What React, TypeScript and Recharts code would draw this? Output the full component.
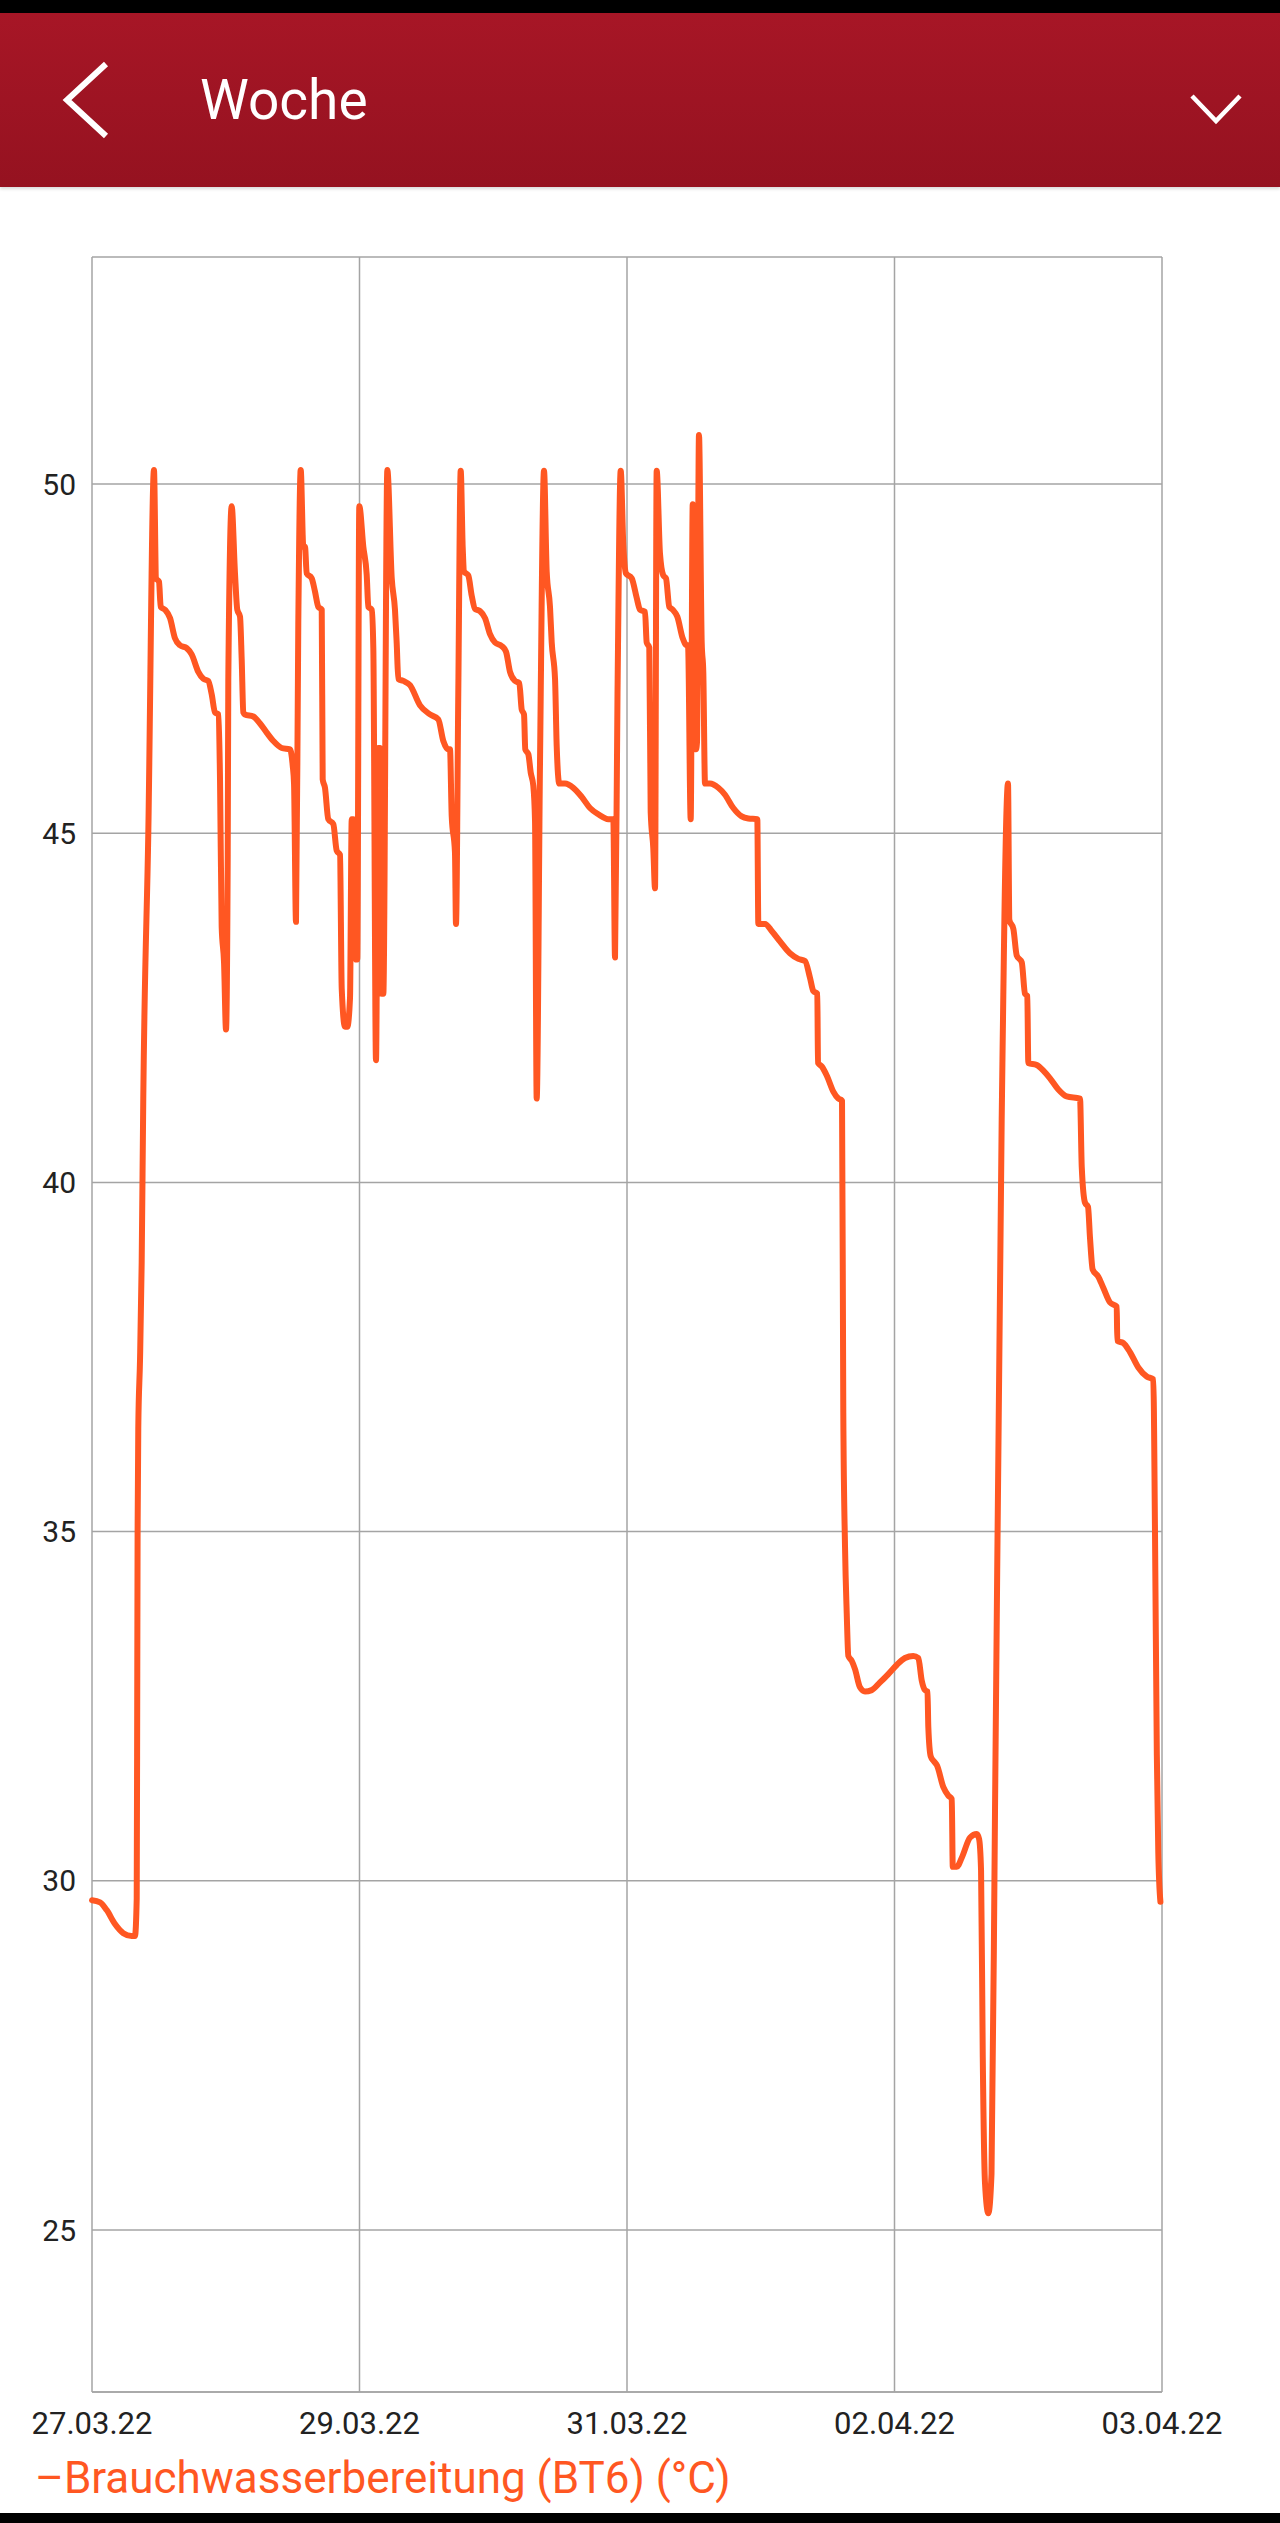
import React from 'react';
import { LineChart, Line, XAxis, YAxis, CartesianGrid } from 'recharts';

// hours since start of the week
const hours: number[] = [
  0, 1.26, 2.31, 3.61, 4.91, 6.23, 6.75, 7.02, 7.11, 7.16, 7.27, 7.54, 7.8, 8.05, 8.84, 9.73,
  10.05, 10.52, 10.79, 11.46, 12.25, 13.03, 13.82, 14.87, 15.65, 16.69, 17.48, 18.26, 18.79, 19.31, 19.83, 20.1, 20.36, 20.73, 21.04, 21.31,
  21.4, 21.93, 22.45, 22.81, 23.24, 23.5, 23.76, 24.02, 25.33, 26.38, 27.43, 28.47, 29.79, 31.09, 31.51, 31.72, 32.03, 32.39, 32.77, 33.18,
  33.44, 33.71, 34.5, 35.01, 35.53, 36.07, 36.22, 36.58, 37.1, 37.89, 38.42, 38.94, 39.21, 39.72, 40.09, 40.51, 40.78, 41.03, 41.45, 41.65,
  41.97, 42.6, 43.13, 43.39, 43.92, 44.17, 44.59, 44.95, 45.22, 45.49, 45.74, 46.37, 47.06, 47.57, 47.84, 48.09, 48.88,
  49.93, 51.5, 53.07, 54.37, 55.16, 55.94, 56.21, 56.48, 56.99, 57.15, 57.51, 57.89, 58.2, 58.41, 59.08, 59.62, 60.14, 60.92, 61.71, 62.49,
  63.28, 64.33, 65.0, 65.63, 66.42, 67.09, 67.47, 67.83, 68.03, 68.51, 68.88, 69.29, 69.56, 69.82, 70.34, 70.97, 71.39, 71.91, 72.18, 72.7,
  72.96, 73.37, 74.27, 75.57, 76.89, 78.19, 79.49, 81.06, 81.85, 82.12, 82.51, 83.01, 83.42, 83.84, 84.74, 85.52, 86.04, 86.83, 87.09, 87.5,
  87.72, 88.13, 88.4, 88.66, 89.18, 89.7, 90.12, 90.64, 91.18, 91.9, 92.75, 93.37, 93.58, 94.0, 94.32, 94.83, 94.99, 95.3, 95.73, 95.98,
  96.25, 97.03, 98.34, 99.39, 100.69, 102.01, 103.05, 104.46, 104.62, 105.67, 106.72, 108.02, 109.59, 110.9, 111.95, 112.73, 113.25, 113.88, 113.99, 114.57,
  115.36, 116.39, 117.18, 117.76,
  117.96, 118.23, 118.5, 118.75, 119.28, 119.8, 120.58, 121.37, 122.42, 123.72, 125.03, 126.35, 127.65, 128.95, 129.74, 130.27, 130.79, 131.18, 131.31, 131.69,
  132.1, 132.68, 133.67, 134.45, 134.99, 135.15, 135.78, 136.56, 137.87, 138.92, 139.28, 139.59, 139.86, 140.21, 140.73, 141.23, 141.78, 142.83, 143.82, 144.03,
  144.66, 145.19, 145.98, 146.49, 146.85, 147.01, 148.33, 149.37, 150.42, 151.72, 153.04, 155.13, 155.4, 155.91, 156.38, 156.7, 157.12, 158.0, 158.78, 159.84,
  160.89, 160.98, 161.92, 162.97, 164.28, 165.6, 166.63, 166.9, 167.19, 167.42, 167.75,
];

// Brauchwasserbereitung (BT6) in °C
const temps: number[] = [
  29.72, 29.69, 29.58, 29.38, 29.25, 29.21, 29.21, 29.74, 33.0, 35.0, 36.5, 37.46, 38.85, 41.2, 45.0, 50.2,
  48.65, 48.6, 48.24, 48.2, 48.08, 47.79, 47.69, 47.65, 47.56, 47.31, 47.21, 47.18, 46.99, 46.73, 46.7, 45.77, 43.66, 43.15, 42.19, 44.69,
  47.19, 49.68, 48.72, 48.2, 48.1, 47.5, 46.73, 46.7, 46.67, 46.57, 46.44, 46.32, 46.22, 46.2, 45.97, 45.71, 43.73, 48.0, 50.2, 49.1,
  49.1, 48.72, 48.65, 48.46, 48.24, 48.2, 45.77, 45.65, 45.2, 45.13, 44.75, 44.69, 42.77, 42.23, 42.23, 42.64, 45.2, 45.2, 43.19, 43.19,
  49.68, 49.1, 48.7, 48.24, 48.2, 47.65, 41.75, 46.22, 46.22, 42.7, 42.7, 50.2, 48.65, 48.2, 47.72, 47.21, 47.18,
  47.12, 46.83, 46.7, 46.63, 46.32, 46.2, 46.2, 45.24, 44.72, 43.7, 47.0, 50.19, 49.1, 48.75, 48.69, 48.4, 48.21, 48.18, 48.08, 47.85,
  47.73, 47.68, 47.6, 47.31, 47.18, 47.15, 46.77, 46.7, 46.2, 46.13, 45.87, 45.68, 45.17, 41.2, 46.0, 50.19, 48.75, 48.24, 47.73, 47.21,
  46.25, 45.71, 45.71, 45.65, 45.52, 45.36, 45.27, 45.2, 45.2, 43.22, 47.0, 50.19, 49.13, 48.72, 48.65, 48.37, 48.2, 48.17, 47.73, 47.66,
  45.3, 44.78, 44.21, 50.19, 49.0, 48.69, 48.65, 48.24, 48.2, 48.1, 47.79, 47.69, 47.69, 45.2, 49.71, 46.2, 46.3, 50.7, 47.73, 47.3,
  45.71, 45.71, 45.65, 45.55, 45.36, 45.24, 45.21, 45.2, 43.7, 43.7, 43.6, 43.45, 43.28, 43.2, 43.17, 42.93, 42.74, 42.7, 41.71, 41.66,
  41.53, 41.3, 41.2, 41.17,
  36.71, 34.79, 33.83, 33.22, 33.15, 33.03, 32.77, 32.71, 32.73, 32.84, 32.96, 33.09, 33.19, 33.22, 33.19, 32.87, 32.73, 32.71, 32.2, 31.78,
  31.72, 31.65, 31.34, 31.22, 31.17, 30.2, 30.2, 30.33, 30.62, 30.67, 30.6, 30.15, 27.47, 25.67, 25.24, 25.8, 31.0, 40.9, 45.71, 43.76,
  43.63, 43.25, 43.15, 42.7, 42.67, 41.71, 41.68, 41.6, 41.49, 41.33, 41.23, 41.2, 40.22, 39.71, 39.65, 39.2, 38.75, 38.65, 38.49, 38.28,
  38.22, 37.73, 37.7, 37.57, 37.35, 37.22, 37.18, 35.0, 31.8, 30.4, 29.7,
];

const xTicks: number[] = [0, 42, 84, 126, 168];
const xTickLabels: string[] = ['27.03.22', '29.03.22', '31.03.22', '02.04.22', '03.04.22'];
const yTicks: number[] = [25, 30, 35, 40, 45, 50];

const seriesName = 'Brauchwasserbereitung (BT6) (°C)';
const title = 'Woche';

const data = hours.map((h, i) => ({ h, t: temps[i] }));

const LINE_COLOR = '#ff5722';
const GRID_COLOR = '#a4a4a4';
const FONT = 'Roboto, "Noto Sans", sans-serif';

export default function App() {
  return (
    <div
      style={{
        position: 'absolute',
        left: 0,
        top: 0,
        width: 1280,
        height: 2523,
        background: '#ffffff',
        overflow: 'hidden',
        fontFamily: FONT,
      }}
    >
      {/* status bar */}
      <div style={{ position: 'absolute', left: 0, top: 0, width: 1280, height: 13, background: '#000' }} />
      {/* header */}
      <div
        style={{
          position: 'absolute',
          left: 0,
          top: 13,
          width: 1280,
          height: 174,
          background: 'linear-gradient(#a71626, #951220)',
          boxShadow: '0 2px 3px rgba(0,0,0,0.15)',
        }}
      />
      <svg style={{ position: 'absolute', left: 0, top: 0 }} width={1280} height={200}>
        <polyline points="106,64 67,100 106,136" fill="none" stroke="#fff" strokeWidth={6} strokeLinecap="butt" strokeLinejoin="miter" />
        <text x={200} y={119} fill="#fff" fontSize={55} fontFamily={FONT}>{title}</text>
        <polyline points="1192,96 1216,121 1240,96" fill="none" stroke="#fff" strokeWidth={4.5} />
      </svg>

      {/* chart */}
      <div style={{ position: 'absolute', left: 0, top: 187 }}>
        <LineChart
          width={1280}
          height={2326}
          data={data}
          margin={{ top: 70, right: 118, bottom: 61, left: 0 }}
        >
          <CartesianGrid stroke={GRID_COLOR} strokeWidth={1.5} horizontal vertical />
          <XAxis
            dataKey="h"
            type="number"
            domain={[0, 168]}
            ticks={xTicks}
            interval={0}
            tickFormatter={(v: number) => xTickLabels[xTicks.indexOf(v)] ?? ''}
            height={60}
            tickLine={false}
            tickSize={6}
            tickMargin={14}
            axisLine={{ stroke: GRID_COLOR, strokeWidth: 1.5 }}
            tick={{ fill: '#222', fontSize: 31, fontFamily: FONT }}
          />
          <YAxis
            type="number"
            domain={[22.68, 53.25]}
            ticks={yTicks}
            interval={0}
            width={92}
            allowDataOverflow
            tickLine={false}
            axisLine={false}
            tickSize={6}
            tickMargin={10}
            tick={{ fill: '#222', fontSize: 30, fontFamily: FONT }}
          />
          <Line
            type="monotone"
            dataKey="t"
            stroke={LINE_COLOR}
            strokeWidth={6}
            strokeLinejoin="round"
            strokeLinecap="round"
            dot={false}
            activeDot={false}
            isAnimationActive={false}
          />
        </LineChart>
      </div>

      {/* legend */}
      <svg style={{ position: 'absolute', left: 0, top: 2440 }} width={1280} height={73}>
        <text x={35} y={53} fill={LINE_COLOR} fontSize={44} fontFamily={FONT}>{'–' + seriesName}</text>
      </svg>

      {/* bottom bar */}
      <div style={{ position: 'absolute', left: 0, top: 2513, width: 1280, height: 10, background: '#000' }} />
    </div>
  );
}
